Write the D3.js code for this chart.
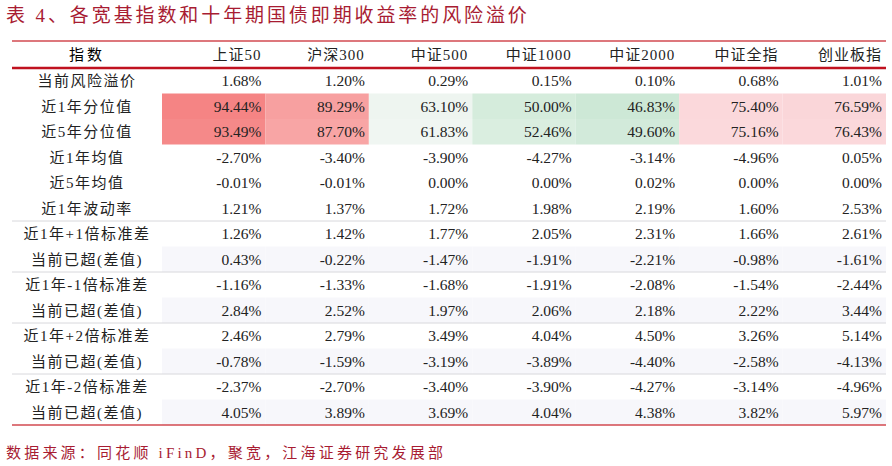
<!DOCTYPE html>
<html><head><meta charset="utf-8">
<script src="https://cdn.jsdelivr.net/npm/d3@7/dist/d3.min.js"></script>
<style>body{margin:0;background:#fff}</style></head>
<body><svg id="c" width="892" height="466"></svg>
<script>
const title = "表 4、各宽基指数和十年期国债即期收益率的风险溢价";
const source = "数据来源：同花顺 iFinD，聚宽，江海证券研究发展部";
const headerLabel = "指数";
const columns = ["上证50","沪深300","中证500","中证1000","中证2000","中证全指","创业板指"];
const rowLabels = ["当前风险溢价","近1年分位值","近5年分位值","近1年均值","近5年均值","近1年波动率","近1年+1倍标准差","当前已超(差值)","近1年-1倍标准差","当前已超(差值)","近1年+2倍标准差","当前已超(差值)","近1年-2倍标准差","当前已超(差值)"];
const values = [
 [1.68,1.20,0.29,0.15,0.10,0.68,1.01],
 [94.44,89.29,63.10,50.00,46.83,75.40,76.59],
 [93.49,87.70,61.83,52.46,49.60,75.16,76.43],
 [-2.70,-3.40,-3.90,-4.27,-3.14,-4.96,0.05],
 [-0.01,-0.01,0.00,0.00,0.02,0.00,0.00],
 [1.21,1.37,1.72,1.98,2.19,1.60,2.53],
 [1.26,1.42,1.77,2.05,2.31,1.66,2.61],
 [0.43,-0.22,-1.47,-1.91,-2.21,-0.98,-1.61],
 [-1.16,-1.33,-1.68,-1.91,-2.08,-1.54,-2.44],
 [2.84,2.52,1.97,2.06,2.18,2.22,3.44],
 [2.46,2.79,3.49,4.04,4.50,3.26,5.14],
 [-0.78,-1.59,-3.19,-3.89,-4.40,-2.58,-4.13],
 [-2.37,-2.70,-3.40,-3.90,-4.27,-3.14,-4.96],
 [4.05,3.89,3.69,4.04,4.38,3.82,5.97]
];
const heatColors = [
 ["#f58484","#f7a0a0","#eef5f0","#d5ecdc","#cde8d6","#fbd8db","#fad6d9"],
 ["#f58989","#f8a5a5","#f0f6f2","#daeee0","#d2eada","#fbd9dc","#fbd8db"]
];
const svg = d3.select("#c");
const F = "'Liberation Serif','Noto Sans CJK SC',serif";
const x0 = 12, x1 = 886, labelW = 150;
const x = d3.scaleBand().domain(columns).range([x0+labelW, x1]);
const y = d3.scaleBand().domain(d3.range(rowLabels.length)).range([68, 425]);
const red = "#c0111f";

svg.append("text").attr("x",6).attr("y",22).attr("font-family",F).attr("font-size",19)
  .attr("fill","#a81c32").attr("letter-spacing",2.9).text(title);
svg.append("text").attr("x",6).attr("y",458).attr("font-family",F).attr("font-size",15)
  .attr("fill","#a81c32").attr("letter-spacing",3.2).text(source);

rowLabels.forEach((r,i)=>{
  columns.forEach((c,j)=>{
    let fill=null;
    if(i===1||i===2) fill=heatColors[i-1][j];
    else if(i>=7 && i%2===1) fill="#f7f7fb";
    if(fill) svg.append("rect").attr("x",x(c)).attr("y",y(i)).attr("width",x.bandwidth()).attr("height",y.bandwidth()).attr("fill",fill);
  });
});
svg.append("line").attr("x1",x0).attr("x2",x1).attr("y1",41).attr("y2",41).attr("stroke","#d24a50").attr("stroke-width",1.5);
svg.append("line").attr("x1",x0).attr("x2",x1).attr("y1",68).attr("y2",68).attr("stroke",red).attr("stroke-width",2.5);
svg.append("line").attr("x1",x0).attr("x2",x1).attr("y1",425).attr("y2",425).attr("stroke","#d24a50").attr("stroke-width",1.5);
[6,8,10,12].forEach(i=>svg.append("line").attr("x1",x0).attr("x2",x1).attr("y1",y(i)).attr("y2",y(i)).attr("stroke","#d8d8dc").attr("stroke-width",1));

svg.append("text").attr("x",x0+labelW/2).attr("y",60).attr("text-anchor","middle").attr("font-family",F).attr("font-size",15).attr("letter-spacing",3).text(headerLabel);
columns.forEach(c=>svg.append("text").attr("x",x(c)+x.bandwidth()-4).attr("y",60).attr("text-anchor","end").attr("font-family",F).attr("font-size",15).attr("letter-spacing",1).attr("fill","#222").text(c));
rowLabels.forEach((r,i)=>{
  svg.append("text").attr("x",x0+labelW/2).attr("y",y(i)+y.bandwidth()/2+5.5).attr("text-anchor","middle").attr("font-family",F).attr("font-size",15).attr("letter-spacing",1.5).attr("fill","#222").text(r);
  values[i].forEach((v,j)=>svg.append("text").attr("x",x(columns[j])+x.bandwidth()-4).attr("y",y(i)+y.bandwidth()/2+5.5).attr("text-anchor","end").attr("font-family",F).attr("font-size",15.5).attr("fill","#222").text(v.toFixed(2)+"%"));
});
</script></body></html>
